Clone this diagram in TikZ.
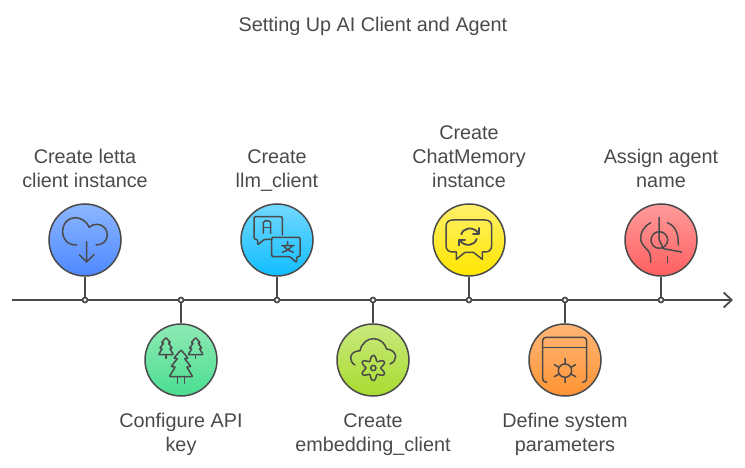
\documentclass[tikz,border=0pt]{standalone}
\usepackage{fontspec}
\setmainfont{Liberation Sans}
\usetikzlibrary{arrows.meta,calc}
\definecolor{ink}{HTML}{4A4A4A}
\tikzset{
  bubble/.style={circle,draw=ink,line width=1.5pt,minimum size=72pt,inner sep=0pt},
  tick/.style={circle,draw=ink,fill=white,line width=1.7pt,minimum size=5pt,inner sep=0pt},
  stem/.style={draw=ink,line width=1.8pt},
  label/.style={text=ink,align=center,inner sep=0pt,font=\fontsize{19.8}{24}\selectfont},
  icon/.style={draw=ink,line width=1.5pt,line cap=round,line join=round},
  zoomed/.style={x=.33333pt,y=-.33333pt},
  pics/treebody/.style={code={
    \draw[icon,rounded corners=.8pt] (0,-80)--(22,-55)--(10,-55)--(30,-30)--(17,-30)--(35,0)--(-35,0)--(-17,-30)--(-30,-30)--(-10,-55)--(-22,-55)--cycle;
  }}
}
\newcommand{\ls}{\rule[-7pt]{0pt}{24pt}}
\begin{document}
\begin{tikzpicture}[x=1pt,y=-1pt]
\useasboundingbox (0,0) rectangle (745,468);
\node[label] (title) at (373,26.5) {\ls Setting Up AI Client and Agent};
\coordinate (axisL) at (12,300);
\coordinate (axisR) at (733,300);
\draw[ink,line width=1.8pt,-{Straight Barb[length=8pt,width=15pt,line width=1.8pt]}] (axisL) -- (axisR);
% ticks
\node[tick] (t1) at (85,300) {};
\node[tick] (t2) at (181,300) {};
\node[tick] (t3) at (277,300) {};
\node[tick] (t4) at (373,300) {};
\node[tick] (t5) at (469,300) {};
\node[tick] (t6) at (565,300) {};
\node[tick] (t7) at (661,300) {};
% circles
\node[bubble,top color={rgb,255:red,140;green,182;blue,255},bottom color={rgb,255:red,77;green,136;blue,255}] (c1) at (85,240) {};
\node[bubble,top color={rgb,255:red,143;green,233;blue,180},bottom color={rgb,255:red,74;green,222;blue,145}] (c2) at (181,360) {};
\node[bubble,top color={rgb,255:red,115;green,216;blue,255},bottom color={rgb,255:red,16;green,190;blue,255}] (c3) at (277,240) {};
\node[bubble,top color={rgb,255:red,200;green,233;blue,125},bottom color={rgb,255:red,168;green,220;blue,48}] (c4) at (373,360) {};
\node[bubble,top color={rgb,255:red,255;green,240;blue,105},bottom color={rgb,255:red,255;green,230;blue,0}] (c5) at (469,240) {};
\node[bubble,top color={rgb,255:red,255;green,182;blue,120},bottom color={rgb,255:red,255;green,148;blue,51}] (c6) at (565,360) {};
\node[bubble,top color={rgb,255:red,255;green,155;blue,155},bottom color={rgb,255:red,255;green,95;blue,95}] (c7) at (661,240) {};
% stems
\draw[stem] (c1) -- (t1);
\draw[stem] (c2) -- (t2);
\draw[stem] (c3) -- (t3);
\draw[stem] (c4) -- (t4);
\draw[stem] (c5) -- (t5);
\draw[stem] (c6) -- (t6);
\draw[stem] (c7) -- (t7);
% labels
\node[label] (l1) at (85,170.5) {\ls Create letta\\\ls client instance};
\node[label] (l2) at (181,434) {\ls Configure API\\\ls key};
\node[label] (l3) at (277,170.5) {\ls Create\\\ls llm\_client};
\node[label] (l4) at (373,434) {\ls Create\\\ls embedding\_client};
\node[label] (l5) at (469,158.5) {\ls Create\\\ls ChatMemory\\\ls instance};
\node[label] (l6) at (565,434) {\ls Define system\\\ls parameters};
\node[label] (l7) at (661,170.5) {\ls Assign agent\\\ls name};
% icon 1: cloud download
\begin{scope}[shift={(30,190)},zoomed]
\draw[icon] (140,165) .. controls (112,165) and (98,148) .. (98,125) .. controls (98,100) and (115,83) .. (135,83) .. controls (155,83) and (170,95) .. (178,112) .. controls (185,105) and (192,103) .. (200,103) .. controls (220,103) and (232,118) .. (232,135) .. controls (232,152) and (218,165) .. (198,165);
\draw[icon] (170,155) -- (170,216) (148,194) -- (170,216) -- (192,194);
\end{scope}
% icon 2: trees
\begin{scope}[shift={(30,190)},zoomed]
\pic at (453,560) {treebody};
\draw[icon] (443,562) -- (443,580) (463,562) -- (463,580);
\pic[scale=.64] at (408,494) {treebody};
\draw[icon] (408,496) -- (408,505);
\pic[scale=.64] at (497,494) {treebody};
\draw[icon] (497,496) -- (497,505);
\end{scope}
% icon 3: translate
\begin{scope}[shift={(230,190)},zoomed]
\draw[icon,rounded corners=1.2pt] (157,135) -- (157,80) -- (72,80) -- (72,148) -- (83,148) -- (83,165) -- (103,148) -- (125,148);
\draw[icon,rounded corners=1.2pt] (125,142) -- (210,142) -- (210,200) -- (200,200) -- (200,218) -- (180,200) -- (125,200) -- cycle;
\draw[icon,rounded corners=1.5pt] (100,130) -- (100,93) -- (122,93) -- (122,130);
\draw[icon] (100,113) -- (122,113);
\draw[icon] (155,167) -- (192,167) (173,155) -- (173,167) (161,167) .. controls (165,175) and (178,183) .. (190,187) (186,167) .. controls (182,175) and (170,183) .. (157,187);
\end{scope}
% icon 4: cloud gear
\begin{scope}[shift={(230,190)},zoomed]
\draw[icon] (375,525) .. controls (365,520) and (362,510) .. (362,503) .. controls (362,490) and (375,483) .. (390,482) .. controls (395,460) and (412,446) .. (430,446) .. controls (450,446) and (465,460) .. (470,477) .. controls (485,478) and (497,488) .. (497,500) .. controls (497,510) and (490,518) .. (480,522);
\draw[icon] plot[smooth cycle,samples=49,domain=0:352.5] ({430+(30+8*cos(6*(\x-90)))*cos(\x)},{534+(30+8*cos(6*(\x-90)))*sin(\x)});
\draw[icon] (430,534) circle[radius=8];
\end{scope}
% icon 5: chat refresh
\begin{scope}[shift={(420,190)},zoomed]
\draw[icon] (98,90) -- (195,90) .. controls (208,90) and (215,97) .. (215,110) -- (215,166) .. controls (215,179) and (208,186) .. (195,186) -- (187,186) -- (187,208) -- (160,187) -- (135,187) -- (109,208) -- (109,186) -- (98,186) .. controls (85,186) and (78,179) .. (78,166) -- (78,110) .. controls (78,97) and (85,90) .. (98,90) -- cycle;
\draw[icon,line width=1.8pt] (124,133) .. controls (130,113) and (158,108) .. (174,128);
\draw[icon,line width=1.8pt] (170,147) .. controls (164,167) and (136,172) .. (120,152);
\draw[icon,line width=1.8pt] (176,114) -- (176,131) -- (159,131);
\draw[icon,line width=1.8pt] (118,166) -- (118,149) -- (135,149);
\end{scope}
% icon 6: window sun
\begin{scope}[shift={(420,190)},zoomed]
\draw[icon] (380,577) .. controls (372,577) and (368,572) .. (368,565) -- (368,452) .. controls (368,446) and (372,442) .. (378,442) -- (490,442) .. controls (496,442) and (500,446) .. (500,452) -- (500,565) .. controls (500,572) and (496,577) .. (488,577);
\draw[icon] (368,472) -- (500,472);
\draw[icon] (435,542) circle[radius=20];
\draw[icon] (435,505) -- (435,521) (435,563) -- (435,578) (403,524) -- (417,532) (467,524) -- (453,532) (403,560) -- (417,552) (467,560) -- (453,552);
\end{scope}
% icon 7: head
\begin{scope}[shift={(610,200)},zoomed]
\draw[icon] (148,120) circle[radius=25];
\draw[icon] (147,52) -- (147,118) -- (160,146) -- (215,156);
\draw[icon] (122,68) .. controls (102,80) and (92,95) .. (92,115) .. controls (92,140) and (122,150) .. (122,170) -- (122,187);
\draw[icon] (172,68) .. controls (195,78) and (205,95) .. (205,135);
\draw[icon] (173,170) -- (173,187);
\end{scope}
\end{tikzpicture}
\end{document}
